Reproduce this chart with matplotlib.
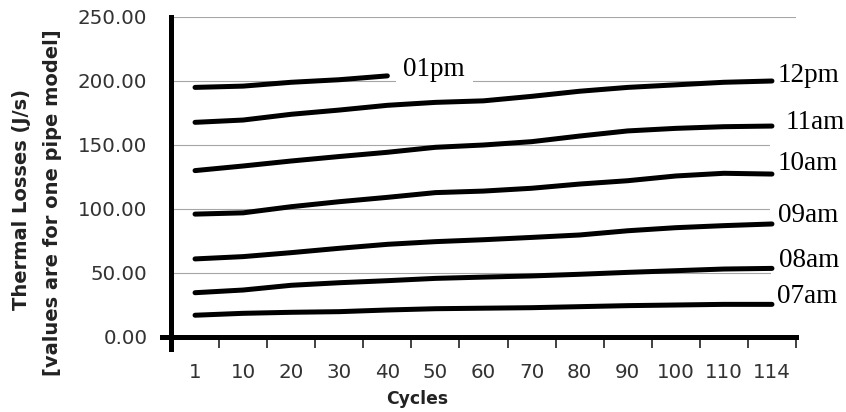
import numpy as np
import matplotlib
matplotlib.use("Agg")
import matplotlib.pyplot as plt
from matplotlib.ticker import FormatStrFormatter

# ---- data ----
cycles = ['1', '10', '20', '30', '40', '50', '60', '70', '80', '90', '100', '110', '114']
loss_07am = [17.0, 18.5, 19.3, 19.8, 21.1, 22.1, 22.5, 22.9, 23.7, 24.5, 25.0, 25.5, 25.5]
loss_08am = [34.6, 36.7, 40.4, 42.4, 44.0, 45.8, 46.8, 47.7, 49.0, 50.5, 51.8, 53.1, 53.6]
loss_09am = [61.0, 62.8, 65.9, 69.3, 72.4, 74.5, 76.0, 77.8, 79.7, 83.0, 85.4, 87.0, 88.3]
loss_10am = [96.0, 97.0, 101.8, 105.7, 109.1, 112.8, 114.0, 116.2, 119.5, 122.1, 125.8, 127.9, 127.3]
loss_11am = [130.0, 133.6, 137.5, 141.0, 144.3, 148.2, 150.0, 152.6, 157.0, 161.0, 163.0, 164.3, 164.8]
loss_12pm = [167.7, 169.5, 174.0, 177.3, 181.0, 183.3, 184.5, 188.0, 192.0, 195.0, 197.0, 199.0, 200.0]
loss_01pm = [195.0, 196.0, 199.0, 201.0, 204.0]
series_names = ['07am', '08am', '09am', '10am', '11am', '12pm', '01pm']
y_ticks = [0, 50, 100, 150, 200, 250]

series = [loss_07am, loss_08am, loss_09am, loss_10am, loss_11am, loss_12pm, loss_01pm]
# label offsets in pixels (dx, dy) from each line's last point
label_offsets = {'07am': (5, 1), '08am': (7, 1), '09am': (6, 2), '10am': (6, 4),
                 '11am': (14, -3), '12pm': (6, -1), '01pm': (16, 0)}

fig = plt.figure(figsize=(8.46, 4.12), dpi=100)
ax = fig.add_axes([171 / 846, 75 / 412, 625 / 846, 320 / 412])

for name, vals in zip(series_names, series):
    xs = np.arange(len(vals))
    ax.plot(xs, vals, color='black', lw=3.6, solid_capstyle='round',
            solid_joinstyle='round', zorder=4)
    dx, dy = label_offsets[name]
    ax.annotate(name, xy=(xs[-1], vals[-1]), xytext=(dx, dy),
                textcoords='offset pixels', ha='left', va='baseline',
                fontsize=19.5, family='Liberation Serif', color='black',
                bbox=dict(boxstyle='square,pad=0.28', fc='white', ec='none'),
                zorder=3)

ax.set_xlim(-0.5, len(cycles) - 0.5)
ax.set_ylim(0, 250)

ax.set_yticks(y_ticks)
ax.yaxis.set_major_formatter(FormatStrFormatter('%.2f'))
ax.grid(axis='y', color='#a6a6a6', lw=0.8)
ax.set_axisbelow(True)

for s in ['top', 'right']:
    ax.spines[s].set_visible(False)
for s in ['left', 'bottom']:
    ax.spines[s].set_linewidth(3.6)
    ax.spines[s].set_color('black')
ax.spines['left'].set_bounds(-9, 250)
ax.spines['bottom'].set_bounds(-0.5 - 9 / 48, len(cycles) - 0.5)

ax.tick_params(axis='y', which='major', length=0, pad=17, labelsize=14.3,
               labelcolor='#333333')
ax.set_xticks(np.arange(len(cycles)))
ax.set_xticklabels(cycles)
ax.set_xticks(np.arange(-0.5, len(cycles), 1.0), minor=True)
ax.tick_params(axis='x', which='major', length=0, pad=18.5, labelsize=14.3,
               labelcolor='#333333')
ax.tick_params(axis='x', which='minor', length=8, width=1.3, color='#333333')

ax.set_xlabel('Cycles', fontsize=12.4, fontweight='bold', color='#222222')
ax.xaxis.set_label_coords((417 - 171) / 625, -0.1656)

fig.text(22 / 846, 1 - 200 / 412, 'Thermal Losses (J/s)', rotation=90,
         ha='center', va='center', fontsize=14, fontweight='bold', color='#222222')
fig.text(52 / 846, 1 - 203 / 412, '[values are for one pipe model]', rotation=90,
         ha='center', va='center', fontsize=14, fontweight='bold', color='#222222')

fig.savefig('out.png', dpi=100)
